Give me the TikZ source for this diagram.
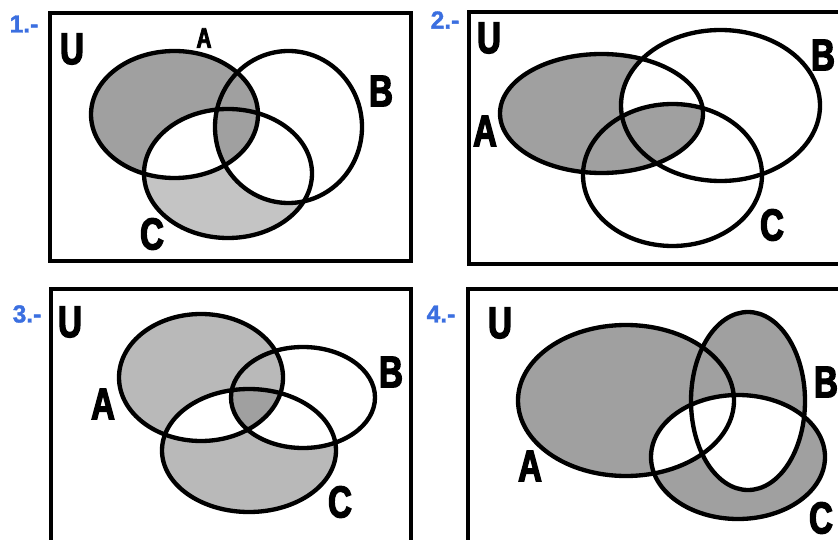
\documentclass[tikz,border=0pt]{standalone}
\usepackage{fontspec}
\newfontfamily\lettrefont[FakeStretch=0.74,FakeBold=3]{Liberation Sans Bold}
\newfontfamily\numfont[FakeBold=1.5]{Liberation Sans Bold}
\definecolor{grisfonce}{HTML}{A0A0A0}
\definecolor{grisclair}{HTML}{C4C4C4}
\definecolor{grismoyen}{HTML}{B9B9B9}
\definecolor{bleunum}{HTML}{3B6FE0}

\begin{document}
\begin{tikzpicture}[x=0.03cm, y=-0.03cm,
	trait/.style={line width=0.13cm},
	cadre/.style={line width=0.14cm},
	lettre/.style={font=\lettrefont\fontsize{38}{40}\selectfont, inner sep=0pt},
	numero/.style={font=\numfont\fontsize{21}{22}\selectfont, text=bleunum, inner sep=0pt}]
		\useasboundingbox (0,0) rectangle (838,540);

		% Ensembles de chaque exercice
		\def\Ai{(174.5,114.5) ellipse [x radius=83.5, y radius=63.5]}
		\def\Bi{(288.5,127) ellipse [x radius=73.5, y radius=76]}
		\def\Ci{(228,173.5) ellipse [x radius=84, y radius=64.5]}
		\def\Aii{(601.5,113.5) ellipse [x radius=101.5, y radius=59.5]}
		\def\Bii{(720.5,105.5) ellipse [x radius=99.5, y radius=75.5]}
		\def\Cii{(672.5,175) ellipse [x radius=89.5, y radius=71]}
		\def\Aiii{(201,377.5) ellipse [x radius=82, y radius=63.5]}
		\def\Biii{(303,397.5) ellipse [x radius=72, y radius=50.5]}
		\def\Ciii{(249,450.5) ellipse [x radius=87, y radius=61.5]}
		\def\Aiv{(626,400.5) ellipse [x radius=108, y radius=75.5]}
		\def\Biv{(748,401) ellipse [x radius=57, y radius=89]}
		\def\Civ{(738,457) ellipse [x radius=87, y radius=62]}

		% Exercice 1
		\fill[grisclair] \Ci;
		\fill[white] \Bi;
		\fill[grisfonce] \Ai;
		\begin{scope}
			\clip \Ai;
			\fill[white] \Ci;
			\clip \Bi;
			\fill[grisfonce] \Ci;
		\end{scope}
		\draw[trait] \Ai;
		\draw[trait] \Bi;
		\draw[trait] \Ci;
		\draw[cadre] (50,13) rectangle (411,261);
		\node[numero] (n1) at (24,24) {1.-};
		\node[lettre] (u1) at (72,49) {U};
		\node[lettre, font=\lettrefont\fontsize{24}{26}\selectfont] (a1) at (204,38) {A};
		\node[lettre] (b1) at (381,91) {B};
		\node[lettre] (c1) at (152,234) {C};

		% Exercice 2
		\fill[grisfonce] \Aii;
		\begin{scope}
			\clip \Aii;
			\fill[white] \Bii;
			\fill[grisfonce] \Cii;
		\end{scope}
		\draw[trait] \Aii;
		\draw[trait] \Bii;
		\draw[trait] \Cii;
		\draw[cadre] (469,12) rectangle (845,264);
		\node[numero] (n2) at (445,20) {2.-};
		\node[lettre] (u2) at (489,38) {U};
		\node[lettre] (a2) at (485,131) {A};
		\node[lettre] (b2) at (823,55) {B};
		\node[lettre] (c2) at (772,225) {C};

		% Exercice 3
		\fill[grismoyen] \Aiii;
		\fill[grismoyen] \Ciii;
		\begin{scope}
			\clip \Ciii;
			\fill[white] \Biii;
			\fill[white] \Aiii;
			\clip \Aiii;
			\fill[grisfonce] \Biii;
		\end{scope}
		\draw[trait] \Aiii;
		\draw[trait] \Biii;
		\draw[trait] \Ciii;
		\draw[cadre] (51,289) rectangle (411,545);
		\node[numero] (n3) at (27,314) {3.-};
		\node[lettre] (u3) at (70,322) {U};
		\node[lettre] (a3) at (103,404) {A};
		\node[lettre] (b3) at (391,372) {B};
		\node[lettre] (c3) at (340,502) {C};

		% Exercice 4
		\fill[grisfonce] \Aiv;
		\fill[grisfonce] \Biv;
		\fill[grisfonce] \Civ;
		\begin{scope}
			\clip \Civ;
			\fill[white] \Aiv;
			\fill[white] \Biv;
		\end{scope}
		\draw[trait] \Aiv;
		\draw[trait] \Biv;
		\draw[trait] \Civ;
		\draw[cadre] (468,289) rectangle (845,545);
		\node[numero] (n4) at (441,314) {4.-};
		\node[lettre] (u4) at (500,323) {U};
		\node[lettre] (a4) at (530,466) {A};
		\node[lettre] (b4) at (826,382) {B};
		\node[lettre] (c4) at (821,518) {C};
	\end{tikzpicture}
\end{document}
